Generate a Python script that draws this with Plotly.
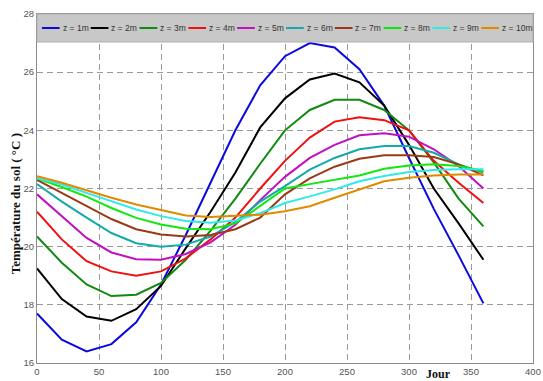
import plotly.graph_objects as go

days = list(range(0, 361, 20))

series_names = ["z = 1m", "z = 2m", "z = 3m", "z = 4m", "z = 5m",
                "z = 6m", "z = 7m", "z = 8m", "z = 9m", "z = 10m"]
series_colors = ["#0a0ae0", "#000000", "#108a10", "#f01010", "#c010c0",
                 "#12aaaa", "#9a3a14", "#10e810", "#30eaea", "#e08a00"]

z1 = [17.7, 16.8, 16.4, 16.65, 17.4, 18.7, 20.4, 22.2, 24.0, 25.55, 26.55, 27.0, 26.85, 26.1, 24.85, 23.05, 21.3, 19.7, 18.05]
z2 = [19.25, 18.2, 17.6, 17.45, 17.85, 18.65, 19.95, 21.2, 22.55, 24.1, 25.1, 25.75, 25.95, 25.65, 24.85, 23.5, 22.0, 20.8, 19.55]
z3 = [20.35, 19.45, 18.7, 18.3, 18.35, 18.75, 19.55, 20.55, 21.65, 22.85, 24.0, 24.7, 25.05, 25.05, 24.7, 24.0, 22.9, 21.65, 20.7]
z4 = [21.2, 20.25, 19.5, 19.15, 19.0, 19.15, 19.6, 20.25, 21.0, 22.0, 22.95, 23.75, 24.3, 24.45, 24.35, 24.0, 22.95, 22.2, 21.5]
z5 = [21.8, 21.05, 20.3, 19.8, 19.57, 19.55, 19.75, 20.15, 20.75, 21.6, 22.4, 23.05, 23.5, 23.83, 23.9, 23.78, 23.35, 22.77, 22.0]
z6 = [22.15, 21.55, 21.0, 20.47, 20.12, 20.0, 20.07, 20.35, 20.85, 21.55, 22.08, 22.65, 23.05, 23.35, 23.46, 23.46, 23.23, 22.83, 22.55]
z7 = [22.3, 21.85, 21.4, 20.95, 20.6, 20.42, 20.35, 20.4, 20.6, 21.0, 21.8, 22.35, 22.75, 23.02, 23.14, 23.14, 23.08, 22.83, 22.45]
z8 = [22.35, 22.05, 21.72, 21.33, 20.99, 20.76, 20.62, 20.6, 20.8, 21.4, 22.0, 22.15, 22.3, 22.45, 22.68, 22.79, 22.83, 22.77, 22.6]
z9 = [22.35, 22.14, 21.85, 21.56, 21.28, 21.05, 20.88, 20.82, 20.9, 21.15, 21.5, 21.73, 21.97, 22.25, 22.43, 22.57, 22.64, 22.66, 22.66]
z10 = [22.42, 22.2, 21.94, 21.68, 21.45, 21.25, 21.07, 21.02, 21.05, 21.1, 21.22, 21.39, 21.68, 21.97, 22.25, 22.37, 22.45, 22.48, 22.48]

all_series = [z1, z2, z3, z4, z5, z6, z7, z8, z9, z10]

x_ticks = [0, 50, 100, 150, 200, 250, 300, 350, 400]
y_ticks = [16, 18, 20, 22, 24, 26, 28]

W, H = 543, 381
ML, MR, MT, MB = 37, 2, 14, 18
PW = W - ML - MR
PH = H - MT - MB

fig = go.Figure()
for name, color, ys in zip(series_names, series_colors, all_series):
    fig.add_trace(go.Scatter(x=days, y=ys, mode="lines", name=name,
                             line=dict(color=color, width=2), showlegend=False))

tick_font = dict(family="Liberation Sans, Arial", size=9.5, color="#555")
grid_style = dict(showgrid=True, gridcolor="#9a9a9a", gridwidth=1, griddash="6px,4px",
                  showline=True, linecolor="#8a8a8a", linewidth=1, mirror=True,
                  zeroline=False, ticks="", tickfont=tick_font, ticklabeloverflow="allow")

fig.update_xaxes(range=[0, 400], tickvals=x_ticks, ticktext=[str(v) for v in x_ticks], **grid_style)
fig.update_yaxes(range=[16, 28], tickvals=y_ticks, ticktext=[str(v) for v in y_ticks], **grid_style)

# Legend band (drawn manually to match the compact MATLAB-style legend)
shapes = [dict(type="rect", xref="paper", yref="paper", x0=0, x1=1,
               y0=1 - 28 / PH, y1=1, fillcolor="#c8c8c8",
               line=dict(color="#b0b0b0", width=1), layer="above")]
annotations = []
leg_y = 1 - 14 / PH
step = 49.6
for i, (name, color) in enumerate(zip(series_names, series_colors)):
    x0 = 5 + step * i
    shapes.append(dict(type="line", xref="paper", yref="paper",
                       x0=x0 / PW, x1=(x0 + 18) / PW, y0=leg_y, y1=leg_y,
                       line=dict(color=color, width=2), layer="above"))
    annotations.append(dict(xref="paper", yref="paper", x=(x0 + 19) / PW, y=leg_y,
                            xanchor="left", yanchor="middle", showarrow=False,
                            text=name,
                            font=dict(family="Liberation Sans, Arial", size=8.5, color="#333")))

annotations.append(dict(xref="paper", yref="paper", x=(15 - ML) / PW, y=(363 - 190 - MT) / PH,
                        xanchor="center", yanchor="middle", showarrow=False, textangle=-90,
                        text="<b>Température du sol ( °C )</b>",
                        font=dict(family="Liberation Serif, Times New Roman, serif", size=13, color="#111")))
annotations.append(dict(xref="x", yref="paper", x=324, y=-11 / PH,
                        xanchor="center", yanchor="middle", showarrow=False,
                        text="<b>Jour</b>",
                        font=dict(family="Liberation Serif, Times New Roman, serif", size=12, color="#111")))

fig.update_layout(width=W, height=H, margin=dict(l=ML, r=MR, t=MT, b=MB),
                  plot_bgcolor="white", paper_bgcolor="white",
                  shapes=shapes, annotations=annotations, showlegend=False)

fig.write_html("out.html")
